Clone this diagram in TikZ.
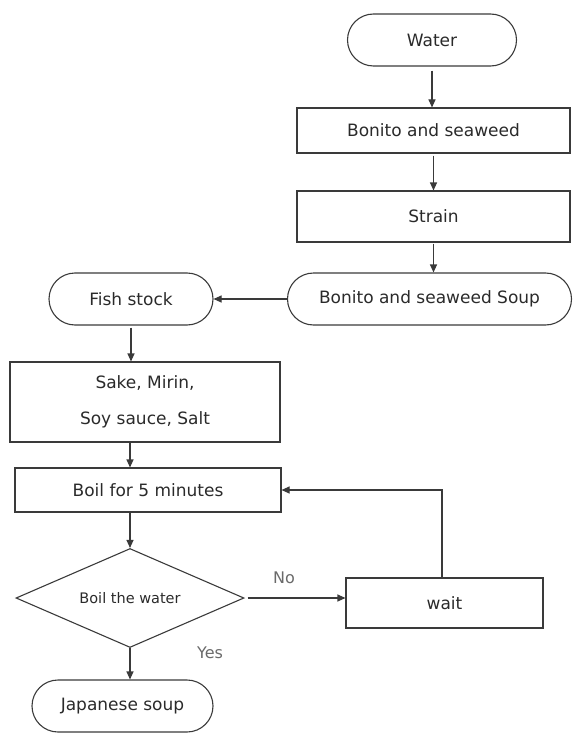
\documentclass[tikz,border=0pt]{standalone}
\usepackage{fontspec}
\setmainfont{DejaVu Sans}
\usetikzlibrary{arrows.meta,shapes.geometric}
\definecolor{ln}{HTML}{3A3A3A}
\definecolor{tx}{HTML}{2A2A2A}
\definecolor{lb}{HTML}{6A6A6A}
\begin{document}
\begin{tikzpicture}[x=1pt,y=-1pt,
  base/.style={draw=ln, line width=1.1pt, text=tx, font=\fontsize{17}{20}\selectfont, inner sep=0pt, anchor=center},
  term/.style={base, rectangle, rounded corners=26pt, minimum height=52pt},
  proc/.style={base, rectangle},
  dec/.style={base, diamond, shape aspect=2.3},
  arr/.style={draw=ln, line width=1.1pt, -{Triangle[length=8pt,width=7pt]}},
  lab/.style={text=lb, font=\fontsize{16}{18}\selectfont, inner sep=0pt}
]
\useasboundingbox (0,0) rectangle (573,733);
\node[term, minimum width=169pt] (water) at (432,40) {Water};
\node[proc, minimum width=273pt, minimum height=45pt] (bonito) at (433.5,130.5) {Bonito and seaweed};
\node[proc, minimum width=273pt, minimum height=51pt] (strain) at (433.5,216.5) {Strain};
\node[term, minimum width=284pt] (soup) at (429.5,299) {Bonito and seaweed Soup};
\node[term, minimum width=164pt] (fish) at (131,299) {Fish stock};
\node[proc, minimum width=270pt, minimum height=80pt, align=center, font=\fontsize{17}{36}\selectfont] (sake) at (145,402) {Sake, Mirin,\\Soy sauce, Salt};
\node[proc, minimum width=266pt, minimum height=44pt] (boil) at (148,490) {Boil for 5 minutes};
\node[dec, minimum width=228pt, minimum height=99pt, font=\fontsize{14.5}{16}\selectfont] (check) at (130,598) {Boil the water};
\node[proc, minimum width=197pt, minimum height=50pt] (wait) at (444.5,603) {wait};
\node[term, minimum width=181pt] (jp) at (122.5,706) {Japanese soup};
\draw[arr] ([yshift=-4pt]water.south) -- (water.south |- bonito.north);
\draw[arr] ([yshift=-2pt]bonito.south) -- (bonito.south |- strain.north);
\draw[arr] ([yshift=-1pt]strain.south) -- (strain.south |- soup.north);
\draw[arr] (soup.west) -- (fish.east);
\draw[arr] ([yshift=-2pt]fish.south) -- (fish.south |- sake.north);
\draw[arr] (check.north |- sake.south) -- (check.north |- boil.north);
\draw[arr] (check.north |- boil.south) -- (check.north);
\draw[arr] ([xshift=3pt]check.east) -- (check.east -| wait.west);
\draw[arr] ([xshift=-2.5pt]wait.north) |- (boil.east);
\draw[arr] (check.south) -- (check.south |- jp.north);
\node[lab] (no) at (284,578) {No};
\node[lab] (yes) at (210,653) {Yes};
\end{tikzpicture}
\end{document}
